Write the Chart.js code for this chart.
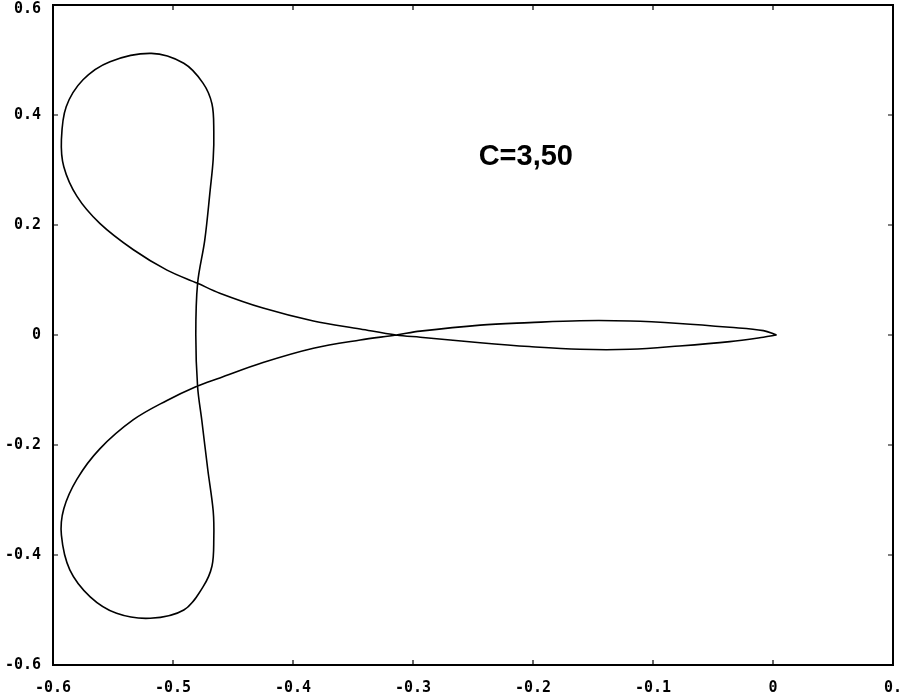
<!DOCTYPE html>
<html>
<head>
<meta charset="utf-8">
<script src="https://cdn.jsdelivr.net/npm/chart.js@4/dist/chart.umd.min.js"></script>
<style>
html,body{margin:0;padding:0;background:#fff;}
#wrap{width:899px;height:695px;position:relative;}
</style>
</head>
<body>
<div id="wrap"><canvas id="c" width="899" height="695"></canvas></div>
<script>
// Tick values and labels
const xTicks = [-0.6, -0.5, -0.4, -0.3, -0.2, -0.1, 0, 0.1];
const xTickLabels = ["-0.6", "-0.5", "-0.4", "-0.3", "-0.2", "-0.1", "0", "0."];
const yTicks = [-0.6, -0.4, -0.2, 0, 0.2, 0.4, 0.6];
const yTickLabels = ["-0.6", "-0.4", "-0.2", "0", "0.2", "0.4", "0.6"];
const annotationText = "C=3,50";

// Curve (traced in order)
const curveX = [
  0.003, -0.008, -0.036, -0.078, -0.119, -0.161, -0.203, -0.244, -0.294, -0.314,
  -0.344, -0.383, -0.425, -0.461, -0.481, -0.505, -0.533, -0.561, -0.580,
  -0.591, -0.593, -0.586, -0.569, -0.547, -0.519, -0.491, -0.475, -0.4675, -0.466, -0.4665,
  -0.471, -0.476, -0.4795, -0.481, -0.4795, -0.4735, -0.469, -0.4665, -0.466, -0.4675, -0.475,
  -0.491, -0.518, -0.5525, -0.575, -0.589, -0.593, -0.591, -0.580, -0.561, -0.533,
  -0.505, -0.4795, -0.461, -0.425, -0.383, -0.344, -0.314, -0.294, -0.244, -0.203,
  -0.161, -0.119, -0.078, -0.036, -0.008, 0.003
];
const curveY = [
  0.000, 0.008, 0.014, 0.021, 0.0255, 0.026, 0.0225, 0.018, 0.007, 0.000,
  -0.009, -0.024, -0.050, -0.078, -0.094, -0.119, -0.154, -0.207, -0.262,
  -0.316, -0.364, -0.427, -0.476, -0.506, -0.515, -0.500, -0.458, -0.420, -0.370, -0.320,
  -0.245, -0.155, -0.094, 0.000, 0.094, 0.173, 0.264, 0.320, 0.370, 0.420, 0.458,
  0.494, 0.512, 0.497, 0.464, 0.415, 0.355, 0.306, 0.252, 0.203, 0.155,
  0.118, 0.094, 0.076, 0.049, 0.0255, 0.011, 0.000, -0.004, -0.014, -0.021,
  -0.026, -0.026, -0.020, -0.012, -0.004, 0.000
];

const points = curveX.map((x, i) => ({x: x, y: curveY[i]}));

const tickFont = {family: "'DejaVu Sans Mono', monospace", size: 15, weight: 'bold'};
const yMaxTick = yTicks[yTicks.length - 1];

const framePlugin = {
  id: 'frame',
  afterDatasetsDraw(chart) {
    const {ctx, chartArea: a, scales} = chart;
    ctx.save();
    ctx.strokeStyle = '#000';
    ctx.lineWidth = 2;
    ctx.strokeRect(a.left, a.top, a.right - a.left, a.bottom - a.top);
    ctx.lineWidth = 1.2;
    ctx.beginPath();
    xTicks.forEach(v => {
      const px = scales.x.getPixelForValue(v);
      ctx.moveTo(px, a.bottom); ctx.lineTo(px, a.bottom - 5);
      ctx.moveTo(px, a.top); ctx.lineTo(px, a.top + 5);
    });
    yTicks.forEach(v => {
      const py = scales.y.getPixelForValue(v);
      ctx.moveTo(a.left, py); ctx.lineTo(a.left + 5, py);
      ctx.moveTo(a.right, py); ctx.lineTo(a.right - 5, py);
    });
    ctx.stroke();
    // annotation
    ctx.fillStyle = '#000';
    ctx.font = "bold 29px 'Liberation Sans', Arial, sans-serif";
    ctx.textAlign = 'center';
    ctx.textBaseline = 'alphabetic';
    ctx.fillText(annotationText, scales.x.getPixelForValue(-0.206), scales.y.getPixelForValue(0.31));
    ctx.restore();
  }
};

new Chart(document.getElementById('c'), {
  type: 'scatter',
  data: {
    datasets: [{
      data: points,
      showLine: true,
      borderColor: '#000',
      borderWidth: 1.6,
      pointRadius: 0,
      tension: 0.35,
      fill: false
    }]
  },
  options: {
    responsive: false,
    animation: false,
    layout: {padding: {top: 5, right: 6, left: 0, bottom: 0}},
    plugins: {legend: {display: false}, tooltip: {enabled: false}},
    scales: {
      x: {
        type: 'linear',
        min: -0.6, max: 0.1,
        afterBuildTicks(s) { s.ticks = xTicks.map(v => ({value: v})); },
        afterFit(s) { s.height = 30; s.paddingRight = 0; s.paddingLeft = 0; },
        grid: {display: false, drawTicks: false},
        border: {display: false},
        ticks: {
          color: '#000', font: tickFont, padding: 14, maxRotation: 0, autoSkip: false,
          callback: (v) => { const i = xTicks.findIndex(t => Math.abs(t - v) < 1e-9); return i >= 0 ? xTickLabels[i] : ''; }
        }
      },
      y: {
        type: 'linear',
        min: -0.6, max: 0.6,
        afterBuildTicks(s) { s.ticks = yTicks.map(v => ({value: v})); },
        afterFit(s) { s.width = 53; s.paddingTop = 0; s.paddingBottom = 0; },
        grid: {display: false, drawTicks: false},
        border: {display: false},
        ticks: {
          color: '#000', padding: 12, autoSkip: false,
          font: (c) => (c.tick && Math.abs(c.tick.value - yMaxTick) < 1e-9) ? Object.assign({}, tickFont, {lineHeight: 0.5}) : tickFont,
          callback: (v) => {
            const i = yTicks.findIndex(t => Math.abs(t - v) < 1e-9);
            if (i < 0) return '';
            return Math.abs(v - yMaxTick) < 1e-9 ? ['', yTickLabels[i]] : yTickLabels[i];
          }
        }
      }
    }
  },
  plugins: [framePlugin]
});
</script>
</body>
</html>
